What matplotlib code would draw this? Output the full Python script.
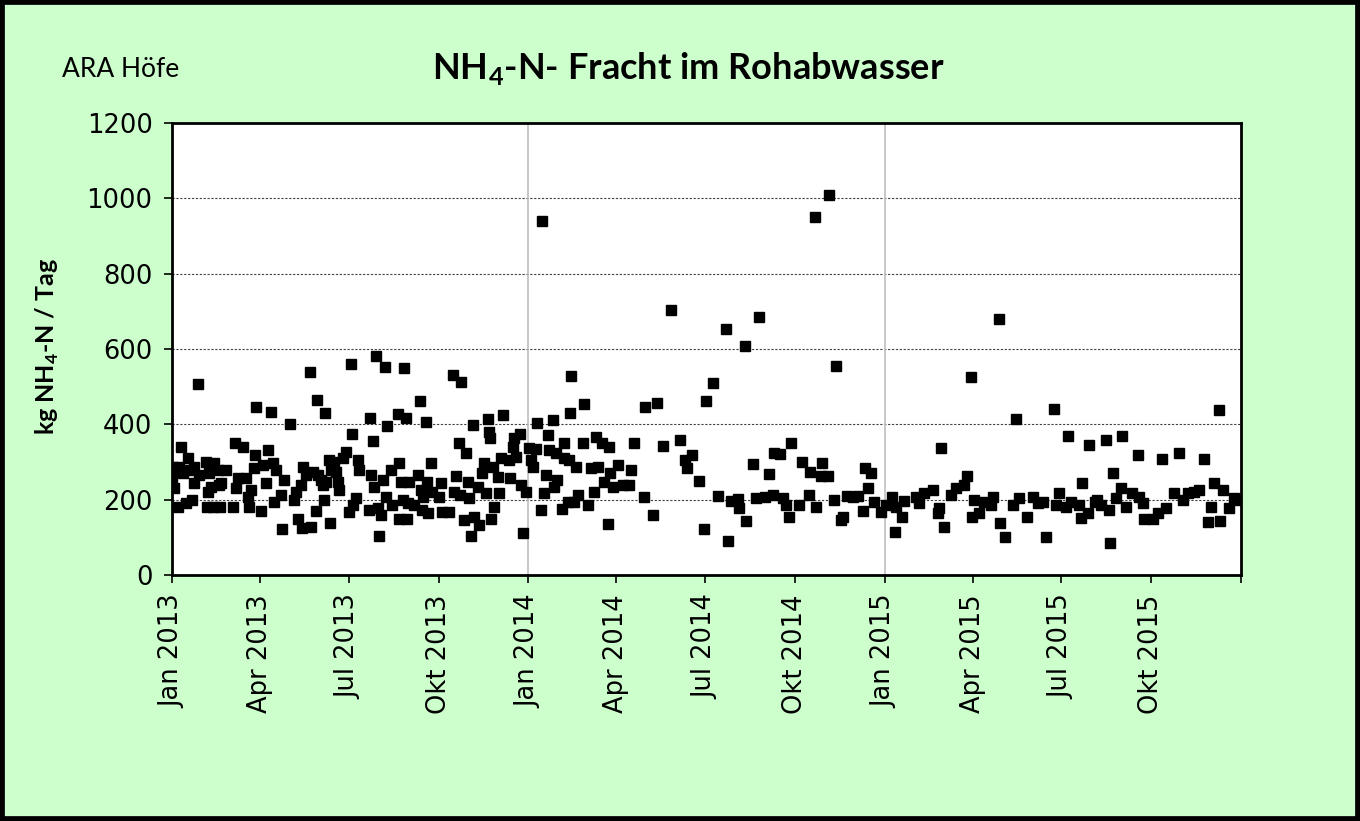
import pandas as pd
import matplotlib
matplotlib.use('Agg')
import matplotlib.pyplot as plt
from matplotlib.patches import Rectangle

# Day of year (0 = 1 Jan) and daily NH4-N load in kg/day, one pair of lists per year
days2013 = [0, 1, 2, 6, 7, 9, 11, 14, 16, 17, 20, 22, 23, 27, 28, 35, 36, 37, 38, 40,
            42, 43, 47, 48, 49, 50, 55, 62, 64, 66, 68, 73, 76, 78, 79, 81, 84, 85, 86, 91,
            93, 96, 98, 101, 103, 104, 107, 112, 113, 115, 121, 125, 127, 129, 132, 133, 134, 137, 141, 142,
            144, 147, 148, 150, 153, 155, 156, 157, 158, 161, 162, 163, 166, 168, 170, 171, 175, 178, 181, 183,
            184, 185, 188, 191, 192, 202, 203, 204, 206, 207, 209, 211, 212, 214, 216, 218, 219, 220, 224, 225,
            231, 232, 233, 235, 237, 238, 240, 241, 242, 243, 248, 252, 254, 255, 256, 257, 260, 261, 262, 265,
            266, 273, 276, 277, 284, 288, 289, 291, 294, 295, 296, 299, 301, 303, 304, 306, 308, 309, 313, 314,
            317, 320, 322, 324, 325, 326, 327, 329, 330, 334, 335, 337, 339, 345, 346, 349, 350, 352, 356, 357,
            360, 363]
load2013 = [258, 287, 231, 180, 287, 340, 271, 191, 311, 279, 199, 244, 287, 507, 265, 300, 180, 220, 271, 234,
            180, 297, 279, 239, 180, 244, 279, 180, 350, 231, 258, 340, 258, 207, 180, 226, 284, 319, 446, 170,
            292, 244, 332, 433, 297, 194, 279, 212, 122, 252, 400, 199, 220, 149, 239, 125, 287, 265, 539, 127,
            273, 170, 465, 265, 252, 239, 199, 430, 247, 305, 138, 279, 300, 273, 247, 226, 311, 327, 167, 560,
            374, 186, 204, 305, 279, 173, 417, 265, 356, 234, 581, 178, 104, 159, 252, 552, 207, 396, 279, 186,
            427, 149, 297, 247, 199, 550, 417, 149, 191, 247, 186, 265, 462, 226, 173, 207, 406, 247, 165, 297,
            220, 207, 244, 167, 167, 531, 220, 263, 351, 212, 512, 146, 324, 247, 204, 104, 398, 154, 234, 133,
            271, 297, 218, 414, 380, 364, 149, 287, 180, 260, 218, 311, 425, 305, 258, 340, 364, 313, 374, 239,
            112, 220]

days2014 = [1, 3, 5, 8, 9, 13, 14, 16, 18, 20, 21, 25, 26, 28, 29, 34, 36, 37, 41, 42,
            43, 44, 47, 49, 51, 56, 57, 61, 64, 67, 69, 71, 75, 77, 82, 83, 84, 87, 92, 97,
            103, 105, 108, 118, 119, 128, 132, 138, 146, 155, 160, 163, 168, 175, 180, 182, 189, 194, 202, 205,
            208, 215, 216, 222, 223, 230, 233, 236, 242, 246, 251, 252, 258, 261, 264, 267, 269, 277, 280, 287,
            288, 294, 295, 300, 301, 307, 308, 313, 315, 320, 322, 326, 333, 338, 343, 345, 348, 351, 354, 361]
load2014 = [337, 305, 287, 334, 404, 173, 940, 218, 265, 372, 332, 412, 234, 324, 252, 175, 350, 311, 194, 305,
            430, 528, 194, 287, 212, 350, 454, 186, 284, 220, 366, 287, 350, 247, 135, 340, 271, 234, 292, 239,
            239, 279, 350, 207, 446, 159, 457, 342, 704, 358, 305, 284, 319, 250, 122, 462, 510, 210, 653, 90,
            196, 202, 178, 608, 143, 295, 204, 685, 207, 268, 212, 324, 321, 204, 186, 154, 350, 186, 300, 212,
            273, 950, 180, 263, 297, 263, 1009, 199, 555, 146, 154, 210, 207, 210, 170, 284, 231, 271, 194, 167]

days2015 = [1, 8, 11, 12, 18, 20, 32, 35, 40, 50, 55, 56, 58, 61, 68, 73, 81, 84, 88, 89,
            91, 97, 102, 109, 111, 117, 118, 123, 131, 135, 138, 146, 152, 157, 162, 165, 173, 175, 179, 186,
            188, 191, 199, 201, 202, 208, 209, 215, 217, 222, 227, 230, 231, 234, 237, 242, 243, 247, 253, 260,
            261, 265, 266, 275, 280, 284, 288, 296, 302, 306, 311, 317, 322, 327, 331, 334, 337, 342, 343, 347,
            353, 358, 362]
load2015 = [186, 207, 114, 180, 154, 196, 207, 191, 218, 226, 165, 178, 337, 127, 212, 231, 239, 263, 526, 154,
            199, 165, 194, 186, 207, 680, 138, 101, 186, 414, 204, 154, 207, 191, 194, 101, 441, 186, 218, 180,
            369, 194, 186, 151, 244, 165, 345, 194, 199, 186, 358, 173, 85, 271, 204, 231, 369, 180, 218, 319,
            207, 191, 149, 149, 165, 308, 178, 218, 324, 199, 218, 220, 226, 308, 141, 180, 244, 438, 143, 226,
            178, 204, 199]

monthNames = {1: "Jan", 4: "Apr", 7: "Jul", 10: "Okt"}

# Build one long dataframe from the yearly lists
frames = []
for year, dayList, loadList in [(2013, days2013, load2013), (2014, days2014, load2014), (2015, days2015, load2015)]:
    start = pd.Timestamp(f"{year}-01-01")
    frames.append(pd.DataFrame({"Datum": start + pd.to_timedelta(dayList, unit="D"), "Fracht": loadList}))
df = pd.concat(frames, ignore_index=True)

plt.rcParams['mathtext.fontset'] = 'custom'
plt.rcParams['mathtext.rm'] = 'Lato'
plt.rcParams['mathtext.bf'] = 'Lato:bold'

fig = plt.figure(figsize=(13.6, 8.21), dpi=100)
fig.patch.set_facecolor('#CCFFCC')
fig.patches.append(Rectangle((0, 0), 1, 1, transform=fig.transFigure, fill=False,
                             edgecolor='black', linewidth=7, zorder=10))

ax = fig.add_axes([0.1265, 0.2996, 0.786, 0.5506])
ax.set_facecolor('white')

# Gridlines: dotted horizontal, light vertical at each new year
for yv in [200, 400, 600, 800, 1000]:
    ax.axhline(yv, color='#404040', linestyle=(0, (2, 1.5)), linewidth=0.8, zorder=1)
for yr in [2014, 2015]:
    ax.axvline(pd.Timestamp(f"{yr}-01-01"), color='#BFBFBF', linewidth=1.2, zorder=1)

ax.plot(df['Datum'], df['Fracht'], linestyle='none', marker='s', markersize=6.5,
        color='black', zorder=3)

ax.set_xlim(pd.Timestamp("2013-01-01"), pd.Timestamp("2016-01-01"))
ax.set_ylim(0, 1200)
ax.set_yticks(range(0, 1201, 200))

tickDates = list(pd.date_range("2013-01-01", "2016-01-01", freq="3MS"))
tickLabels = [f"{monthNames[d.month]} {d.year}" for d in tickDates[:-1]] + [""]
ax.set_xticks(tickDates)
ax.set_xticklabels(tickLabels, rotation=90)

ax.tick_params(axis='both', direction='out', length=6, width=1.2, labelsize=18.5, colors='black')
ax.tick_params(axis='y', pad=8)
ax.tick_params(axis='x', pad=8)
for sp in ax.spines.values():
    sp.set_linewidth(2)
    sp.set_color('black')

fig.text(0.506, 0.917, r"NH$_\mathbf{4}$-N- Fracht im Rohabwasser", ha='center', va='center',
         fontsize=26, fontweight='bold', family='Lato')
fig.text(0.0456, 0.915, "ARA Höfe", ha='left', va='center', fontsize=19, family='Lato')
fig.text(0.035, 0.578, r"kg NH$_\mathbf{4}$-N / Tag", ha='center', va='center', rotation=90,
         fontsize=18, fontweight='bold', family='Lato')

fig.savefig("out.png", dpi=100, facecolor=fig.get_facecolor())
